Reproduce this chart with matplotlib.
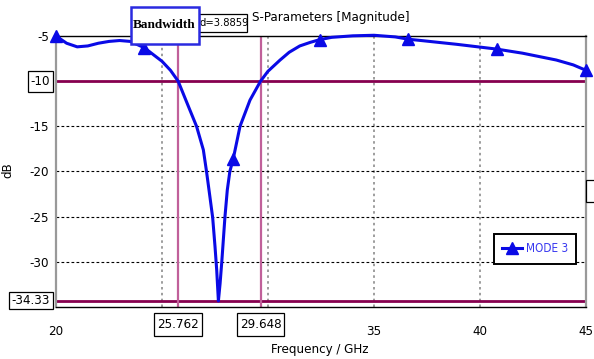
import matplotlib
matplotlib.use("Agg")
import matplotlib.pyplot as plt
import matplotlib.patches as patches
import numpy as np

plt.rcParams['font.family'] = ['DejaVu Sans']
plt.rcParams['font.stretch'] = 'condensed'

# S11 curve (GHz, dB)
freq = [20.0, 20.5, 21.0, 21.5, 22.0, 22.5, 23.0, 23.5, 24.17, 24.5, 25.0, 25.4,
        25.762, 26.16, 26.63, 26.95, 27.1, 27.26, 27.39, 27.5, 27.58, 27.66,
        27.74, 27.82, 27.97, 28.08, 28.2, 28.36, 28.68, 29.15, 29.648, 30.0,
        30.57, 31.0, 31.5, 32.0, 32.45, 33.0, 34.0, 35.0, 36.0,
        36.6, 37.3, 38.9, 40.79, 42.0, 43.6, 44.4, 45.0]
s11 = [-5.0, -5.8, -6.2, -6.1, -5.8, -5.6, -5.5, -5.6, -6.3, -6.9, -7.8, -8.8,
       -10.0, -12.3, -15.0, -17.6, -20.0, -22.8, -25.1, -28.3, -30.9, -34.33,
       -32.4, -30.0, -25.0, -22.05, -20.0, -18.6, -15.0, -12.1, -10.0, -8.9,
       -7.66, -6.8, -6.1, -5.7, -5.4, -5.15, -4.98, -4.92, -5.1,
       -5.35, -5.52, -5.92, -6.45, -6.9, -7.66, -8.2, -8.8]
marker_freq = [20.0, 24.17, 28.36, 32.45, 36.6, 40.79, 45.0]

level_db = [-10.0, -34.33]
band_edges = [25.762, 29.648]
bandwidth = 3.8859

xticks = [20, 35, 40, 45]
yticks = [-5, -15, -20, -25, -30]
xgrid = [25, 30, 35, 40]
ygrid = [-15, -20, -25, -30]

W, H = 594, 359
fig = plt.figure(figsize=(W / 100, H / 100), dpi=100)
ax = fig.add_axes([56 / W, 1 - 307 / H, 530 / W, 271 / H])
ax.set_xlim(20, 45)
ax.set_ylim(-35, -5)

# grid
for x in xgrid:
    ax.axvline(x, color='#8c8c8c', lw=1.2, ls=(0, (1.5, 2)), zorder=1)
for y in ygrid:
    ax.axhline(y, color='black', lw=0.8, ls=(0, (2.5, 2)), zorder=1)

# markers (purple lines)
for y in level_db:
    ax.axhline(y, color='#86004f', lw=2.0, zorder=2)
for x in band_edges:
    ax.axvline(x, color='#c0609a', lw=1.6, zorder=2)

idx = [int(np.argmin(np.abs(np.array(freq) - f))) for f in marker_freq]
ax.plot(freq, s11, color='#0a0ae6', lw=2.2, marker='^', markersize=8,
        markevery=idx, clip_on=False, zorder=4, label='MODE 3')

ax.set_xticks(xticks)
ax.set_yticks(yticks)
ax.set_xticklabels([str(t) for t in xticks])
ax.set_yticklabels([str(t) for t in yticks])
ax.tick_params(length=0, labelsize=9.5)
ax.tick_params(axis='x', pad=13)
ax.tick_params(axis='y', pad=5)

for side in ['left', 'right']:
    ax.spines[side].set_color('#999999')
    ax.spines[side].set_linewidth(1.6)
for side in ['top', 'bottom']:
    ax.spines[side].set_color('black')
    ax.spines[side].set_linewidth(1.0)

fig.text(331 / W, 1 - 18 / H, 'S-Parameters [Magnitude]', ha='center', va='center', fontsize=9.5)
fig.text(320 / W, 1 - 350 / H, 'Frequency / GHz', ha='center', va='center', fontsize=9.5)
fig.text(8 / W, 1 - 170 / H, 'dB', ha='center', va='center', rotation=90, fontsize=9.5)


# marker readouts: text in a white box drawn around it (pixel sizes)
def boxed(cx, cy, s, ha, h, padx=3):
    t = fig.text(cx / W, cy / H, s, ha=ha, va='center', fontsize=9.5, zorder=8)
    fig.canvas.draw()
    bb = t.get_window_extent()
    fig.patches.append(patches.Rectangle(((bb.x0 - padx) / W, (cy - h / 2) / H),
                                         (bb.width + 2 * padx) / W, h / H,
                                         transform=fig.transFigure, fc='white',
                                         ec='black', lw=0.9, zorder=7))


for y, h in zip(level_db, [21, 17]):
    px, py = ax.transData.transform((20, y))
    boxed(px - 6, py, f'{y:g}', 'right', h)
for x in band_edges:
    px, py = ax.transData.transform((x, -35))
    boxed(px, py - 17.5, f'{x:.3f}', 'center', 23)

# bandwidth readout boxes
fig.patches.append(patches.Rectangle((199 / W, 1 - 32 / H), 48 / W, 18 / H,
                                     transform=fig.transFigure, fc='white', ec='black', lw=0.9, zorder=7))
fig.text(200 / W, 1 - 23 / H, f'd={bandwidth}', ha='left', va='center', fontsize=8, zorder=8)
fig.patches.append(patches.Rectangle((131 / W, 1 - 44 / H), 68 / W, 37 / H,
                                     transform=fig.transFigure, fc='white', ec='#2a2ae0', lw=1.8, zorder=9))
fig.text(164 / W, 1 - 25 / H, 'Bandwidth', ha='center', va='center', fontsize=9.5,
         fontweight='bold', family='Liberation Serif', fontstretch='normal', zorder=10)

# cut-off box at the right edge
fig.patches.append(patches.Rectangle((586 / W, 1 - 202 / H), 12 / W, 22 / H,
                                     transform=fig.transFigure, fc='white', ec='black', lw=0.9))

leg = ax.legend(loc='center', bbox_to_anchor=((535 - 56) / 530, (307 - 249) / 271),
                fancybox=False, edgecolor='black', fontsize=8.5, handlelength=1.7,
                handletextpad=0.3, borderpad=0.7, framealpha=1)
leg.get_frame().set_linewidth(1.4)
for t in leg.get_texts():
    t.set_color('#3a3af0')

fig.savefig('out.png', dpi=100)
